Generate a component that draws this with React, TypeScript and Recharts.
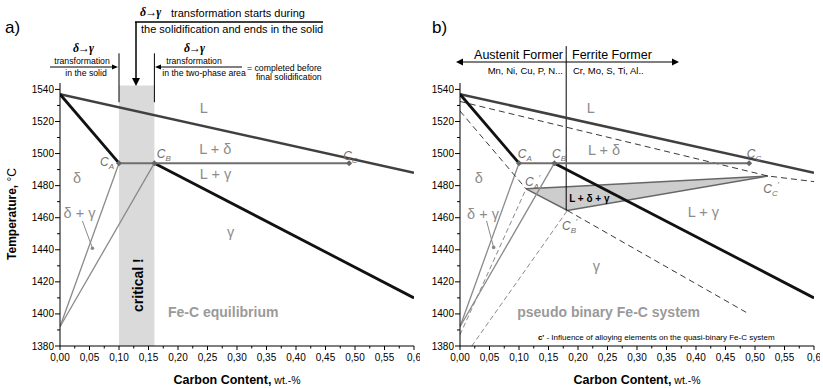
import React from "react";
import {
  ComposedChart,
  Line,
  Area,
  XAxis,
  YAxis,
  ReferenceArea,
  ReferenceLine,
  ReferenceDot,
} from "recharts";

const FONT = "'Liberation Sans', Arial, Helvetica, sans-serif";
const SERIF = "'Liberation Serif', 'Times New Roman', serif";

// axis ticks
const yTicks = [1380, 1390, 1400, 1410, 1420, 1430, 1440, 1450, 1460, 1470, 1480, 1490, 1500, 1510, 1520, 1530, 1540];
const yLabelled = [1380, 1400, 1420, 1440, 1460, 1480, 1500, 1520, 1540];
const xLabelled = [0, 0.05, 0.1, 0.15, 0.2, 0.25, 0.3, 0.35, 0.4, 0.45, 0.5, 0.55, 0.6];
const xTickLabels = ["0,00", "0,05", "0,10", "0,15", "0,20", "0,25", "0,30", "0,35", "0,40", "0,45", "0,50", "0,55", "0,6"];
const xMinor = [0.025, 0.075, 0.125, 0.175, 0.225, 0.275, 0.325, 0.375, 0.425, 0.475, 0.525, 0.575];
const xTicks = [...xLabelled, ...xMinor].sort((a, b) => a - b);

// Fe-C equilibrium lines (c = wt.-% C, t = °C)
const liquidus = [{ c: 0, t: 1537 }, { c: 0.6, t: 1488 }];
const deltaSolidus = [{ c: 0, t: 1537 }, { c: 0.1, t: 1494 }];
const gammaSolidus = [{ c: 0.16, t: 1494 }, { c: 0.6, t: 1410 }];
const peritectic = [{ c: 0.1, t: 1494 }, { c: 0.16, t: 1494 }, { c: 0.49, t: 1494 }];
const deltaGammaA = [{ c: 0, t: 1392 }, { c: 0.1, t: 1494 }];
const deltaGammaB = [{ c: 0, t: 1392 }, { c: 0.16, t: 1494 }];
const pointerA = [{ c: 0.038, t: 1458 }, { c: 0.055, t: 1441 }];
const pointerB = [{ c: 0.045, t: 1458 }, { c: 0.057, t: 1441.5 }];
const criticalBand = { from: 0.1, to: 0.16, top: 1542.5 };

// pseudo binary (alloy-shifted) lines
const liquidusShift = [{ c: 0, t: 1532.5 }, { c: 0.522, t: 1486 }, { c: 0.6, t: 1482.5 }];
const deltaSolidusShift = [{ c: 0, t: 1526.5 }, { c: 0.112, t: 1478 }];
const gammaSolidusShift = [{ c: 0.182, t: 1464.5 }, { c: 0.485, t: 1401 }];
const deltaGammaAShift = [{ c: 0, t: 1387 }, { c: 0.112, t: 1478 }];
const deltaGammaBShift = [{ c: 0.02, t: 1380 }, { c: 0.182, t: 1464.5 }];
const threePhase = [
  { c: 0.112, t: [1478, 1478] },
  { c: 0.182, t: [1464.5, 1479.3] },
  { c: 0.522, t: [1486, 1486] },
];

type Tag = {
  c: number;
  t: number;
  text: string;
  kind: "phase" | "point" | "title" | "bold" | "note" | "rot";
  sub?: string;
  prime?: boolean;
  lead?: string;
};

const leftTags: Tag[] = [
  { c: 0.237, t: 1525.6, text: "L", kind: "phase" },
  { c: 0.236, t: 1500, text: "L + δ", kind: "phase" },
  { c: 0.237, t: 1484, text: "L + γ", kind: "phase" },
  { c: 0.022, t: 1481.7, text: "δ", kind: "phase" },
  { c: 0.006, t: 1460, text: "δ + γ", kind: "phase" },
  { c: 0.283, t: 1448, text: "γ", kind: "phase" },
  { c: 0.068, t: 1492, text: "C", sub: "A", kind: "point" },
  { c: 0.164, t: 1497.5, text: "C", sub: "B", kind: "point" },
  { c: 0.48, t: 1496, text: "C", sub: "C", kind: "point" },
  { c: 0.183, t: 1398, text: "Fe-C equilibrium", kind: "title" },
  { c: 0.132, t: 1418, text: "critical !", kind: "rot" },
];

const rightTags: Tag[] = [
  { c: 0.215, t: 1525.6, text: "L", kind: "phase" },
  { c: 0.217, t: 1499, text: "L + δ", kind: "phase" },
  { c: 0.386, t: 1460.6, text: "L + γ", kind: "phase" },
  { c: 0.025, t: 1481.9, text: "δ", kind: "phase" },
  { c: 0.012, t: 1459.4, text: "δ + γ", kind: "phase" },
  { c: 0.225, t: 1427, text: "γ", kind: "phase" },
  { c: 0.098, t: 1497, text: "C", sub: "A", kind: "point" },
  { c: 0.156, t: 1497, text: "C", sub: "B", kind: "point" },
  { c: 0.486, t: 1497.5, text: "C", sub: "C", kind: "point" },
  { c: 0.11, t: 1480, text: "C", sub: "A", prime: true, kind: "point" },
  { c: 0.173, t: 1452.5, text: "C", sub: "B", prime: true, kind: "point" },
  { c: 0.514, t: 1475.6, text: "C", sub: "C", prime: true, kind: "point" },
  { c: 0.185, t: 1470, text: "L + δ + γ", kind: "bold" },
  { c: 0.097, t: 1398, text: "pseudo binary Fe-C system", kind: "title" },
  { c: 0.132, t: 1383.8, lead: "c'", text: " - Influence of alloying elements on the quasi-binary Fe-C system", kind: "note" },
];

const tagStyles: Record<string, any> = {
  phase: { fontSize: 14.5, fill: "#8c8c8c" },
  point: { fontSize: 12, fill: "#707070", fontStyle: "italic" },
  title: { fontSize: 14, fill: "#9a9a9a", fontWeight: "bold" },
  bold: { fontSize: 10, fill: "#000", fontWeight: "bold" },
  note: { fontSize: 8, fill: "#000" },
  rot: { fontSize: 14, fill: "#000", fontWeight: "bold" },
};

const tagShape = (tag: Tag) => (p: any) => {
  const s = tagStyles[tag.kind];
  if (tag.kind === "rot") {
    return (
      <text x={p.cx} y={p.cy} dy={5} textAnchor="middle" fontFamily={FONT} transform={`rotate(-90 ${p.cx} ${p.cy})`} {...s}>
        {tag.text}
      </text>
    );
  }
  return (
    <text x={p.cx} y={p.cy} fontFamily={FONT} {...s}>
      {tag.lead && <tspan fontWeight="bold">{tag.lead}</tspan>}
      {tag.text}
      {tag.sub && (
        <tspan fontSize={8} dy={3}>
          {tag.sub}
        </tspan>
      )}
      {tag.prime && (
        <tspan fontSize={8} dy={-9} fontStyle="normal">
          ′
        </tspan>
      )}
    </text>
  );
};

const YTick = (props: any) => {
  const { x, y, payload } = props;
  const major = yLabelled.includes(payload.value);
  return (
    <g>
      <line x1={x} x2={x - (major ? 5 : 3)} y1={y} y2={y} stroke="#000" />
      {major && (
        <text x={x - 6} y={y + 3.5} textAnchor="end" fontSize={10} fontFamily={FONT} fill="#000">
          {payload.value}
        </text>
      )}
    </g>
  );
};

const XTick = (props: any) => {
  const { x, y, payload } = props;
  const i = xLabelled.indexOf(payload.value);
  return (
    <g>
      <line x1={x} x2={x} y1={y} y2={y + (i >= 0 ? 4 : 2.5)} stroke="#000" />
      {i >= 0 && (
        <text x={x} y={y + 15} textAnchor="middle" fontSize={10} fontFamily={FONT} fill="#000">
          {xTickLabels[i]}
        </text>
      )}
    </g>
  );
};

const diamond = (p: any) => (
  <path
    key={`d-${p.index}`}
    d={`M${p.cx},${p.cy - 3}L${p.cx + 3},${p.cy}L${p.cx},${p.cy + 3}L${p.cx - 3},${p.cy}Z`}
    fill="#666"
  />
);

const endDot = (p: any) =>
  p.index === 1 ? <circle key={`e-${p.index}`} cx={p.cx} cy={p.cy} r={1.8} fill="#888" /> : <g key={`e-${p.index}`} />;

const W = 420;
const H = 388;
const margin = { top: 83, right: 6, bottom: 12, left: 0 };

const axes = () => [
  <XAxis
    key="x"
    dataKey="c"
    type="number"
    domain={[0, 0.6]}
    ticks={xTicks}
    interval={0}
    allowDataOverflow
    tickSize={0}
    tickMargin={0}
    tickLine={false}
    tick={<XTick />}
    axisLine={{ stroke: "#000" }}
    height={30}
  />,
  <YAxis
    key="y"
    type="number"
    domain={[1380, 1544]}
    ticks={yTicks}
    interval={0}
    allowDataOverflow
    tickSize={0}
    tickMargin={0}
    tickLine={false}
    tick={<YTick />}
    axisLine={{ stroke: "#000" }}
    width={60}
  />,
];

const seg = (data: any[], stroke: string, width: number, key: string, dash?: string, dot?: any) => (
  <Line
    key={key}
    data={data}
    dataKey="t"
    type="linear"
    stroke={stroke}
    strokeWidth={width}
    strokeDasharray={dash}
    dot={dot || false}
    activeDot={false}
    isAnimationActive={false}
  />
);

const tags = (list: Tag[], prefix: string) =>
  list.map((tag, i) => (
    <ReferenceDot key={`${prefix}${i}`} x={tag.c} y={tag.t} r={0} ifOverflow="visible" shape={tagShape(tag)} />
  ));

const LeftChart = () => (
  <ComposedChart width={W} height={H} margin={margin}>
    {axes()}
    <ReferenceArea
      x1={criticalBand.from}
      x2={criticalBand.to}
      y1={1380}
      y2={criticalBand.top}
      fill="#dadada"
      fillOpacity={1}
      stroke="none"
      ifOverflow="visible"
    />
    <ReferenceLine segment={[{ x: criticalBand.from, y: 1532 }, { x: criticalBand.from, y: 1562.5 }]} stroke="#000" ifOverflow="visible" />
    <ReferenceLine segment={[{ x: criticalBand.to, y: 1532 }, { x: criticalBand.to, y: 1562.5 }]} stroke="#000" ifOverflow="visible" />
    {seg(deltaGammaA, "#8a8a8a", 1.3, "dga")}
    {seg(deltaGammaB, "#8a8a8a", 1.3, "dgb")}
    {seg(pointerA, "#8a8a8a", 1, "pa", undefined, endDot)}
    {seg(liquidus, "#404040", 2.5, "liq")}
    {seg(deltaSolidus, "#111", 2.8, "ds")}
    {seg(gammaSolidus, "#111", 2.8, "gs")}
    {seg(peritectic, "#6e6e6e", 2, "per", undefined, diamond)}
    {tags(leftTags, "l")}
  </ComposedChart>
);

const RightChart = () => (
  <ComposedChart width={W} height={H} margin={margin}>
    {axes()}
    <Area
      data={threePhase}
      dataKey="t"
      type="linear"
      fill="#cdcdcd"
      fillOpacity={1}
      stroke="#666"
      strokeWidth={1.5}
      dot={false}
      activeDot={false}
      isAnimationActive={false}
    />
    <ReferenceLine segment={[{ x: 0.18, y: 1464.5 }, { x: 0.18, y: 1567 }]} stroke="#000" ifOverflow="visible" />
    {seg(deltaGammaAShift, "#8a8a8a", 1, "dgas", "5 3")}
    {seg(deltaGammaBShift, "#8a8a8a", 1, "dgbs", "5 3")}
    {seg(deltaGammaA, "#8a8a8a", 1.3, "dga")}
    {seg(deltaGammaB, "#8a8a8a", 1.3, "dgb")}
    {seg(pointerB, "#8a8a8a", 1, "pb", undefined, endDot)}
    {seg(liquidusShift, "#222", 0.9, "liqs", "6 4")}
    {seg(deltaSolidusShift, "#222", 0.9, "dss", "6 4")}
    {seg(gammaSolidusShift, "#222", 0.9, "gss", "6 4")}
    {seg(liquidus, "#404040", 2.5, "liq")}
    {seg(deltaSolidus, "#111", 2.8, "ds")}
    {seg(gammaSolidus, "#111", 2.8, "gs")}
    {seg(peritectic, "#6e6e6e", 2, "per", undefined, diamond)}
    {tags(rightTags, "r")}
  </ComposedChart>
);

const small = { fontSize: 8.7, fontFamily: FONT, fill: "#000" };
const greek = {
  fontSize: 12,
  fontFamily: SERIF,
  fontStyle: "italic" as const,
  fontWeight: "bold" as const,
  fill: "#000",
  letterSpacing: -1,
};

const Header = () => (
  <svg width={823} height={388} style={{ position: "absolute", left: 0, top: 0, pointerEvents: "none" }}>
    {/* panel a */}
    <text x={5} y={33} fontSize={17} fontFamily={FONT}>a)</text>
    <text x={140} y={16} {...greek}>δ→γ</text>
    <text x={171} y={17} fontSize={11} fontFamily={FONT}>transformation starts during</text>
    <line x1={135} y1={22} x2={323} y2={22} stroke="#000" strokeWidth={1.5} />
    <line x1={136} y1={22} x2={136} y2={80} stroke="#000" strokeWidth={1.5} />
    <polygon points="132,78 140,78 136,86" fill="#000" />
    <text x={141} y={33} fontSize={11} fontFamily={FONT}>the solidification and ends in the solid</text>
    <text x={83} y={52} textAnchor="middle" {...greek}>δ→γ</text>
    <text x={82} y={64} textAnchor="middle" {...small}>transformation</text>
    <line x1={50} y1={67} x2={113} y2={67} stroke="#000" />
    <polygon points="112,64.5 118,67 112,69.5" fill="#000" />
    <text x={86} y={76} textAnchor="middle" {...small}>in the solid</text>
    <text x={194} y={52} textAnchor="middle" {...greek}>δ→γ</text>
    <text x={194} y={64} textAnchor="middle" {...small}>transformation</text>
    <line x1={242} y1={67} x2={160} y2={67} stroke="#000" />
    <polygon points="161,64.5 155,67 161,69.5" fill="#000" />
    <text x={204} y={76} textAnchor="middle" {...small}>in the two-phase area</text>
    <text x={247} y={71} {...small}>= completed before</text>
    <text x={256} y={80} {...small}>final solidification</text>
    {/* panel b */}
    <text x={432} y={33} fontSize={17} fontFamily={FONT}>b)</text>
    <line x1={462} y1={62} x2={673} y2={62} stroke="#000" strokeWidth={1.2} />
    <polygon points="463,58.5 456,62 463,65.5" fill="#000" />
    <polygon points="672,58.5 679,62 672,65.5" fill="#000" />
    <text x={563} y={59} textAnchor="end" fontSize={12.5} fontFamily={FONT}>Austenit Former</text>
    <text x={572} y={59} fontSize={12.5} fontFamily={FONT}>Ferrite Former</text>
    <text x={563} y={74} textAnchor="end" fontSize={9.5} fontFamily={FONT}>Mn, Ni, Cu, P, N...</text>
    <text x={573} y={74} fontSize={9.5} fontFamily={FONT}>Cr, Mo, S, Ti, Al..</text>
    {/* axis titles */}
    <text transform="rotate(-90)" x={-214} y={16} textAnchor="middle" fontSize={12} fontFamily={FONT}>
      <tspan fontWeight="bold">Temperature,</tspan> °C
    </text>
    <text x={237} y={384} textAnchor="middle" fontFamily={FONT}>
      <tspan fontWeight="bold" fontSize={12.5}>Carbon Content,</tspan>
      <tspan fontSize={10.5}> wt.-%</tspan>
    </text>
    <text x={637} y={384} textAnchor="middle" fontFamily={FONT}>
      <tspan fontWeight="bold" fontSize={12.5}>Carbon Content,</tspan>
      <tspan fontSize={10.5}> wt.-%</tspan>
    </text>
  </svg>
);

const App = () => {
  return (
    <div style={{ position: "absolute", left: 0, top: 0, width: 823, height: 388, background: "#fff", fontFamily: FONT }}>
      <div style={{ position: "absolute", left: 0, top: 0 }}>
        <LeftChart />
      </div>
      <div style={{ position: "absolute", left: 400, top: 0 }}>
        <RightChart />
      </div>
      <Header />
    </div>
  );
};

export default App;
